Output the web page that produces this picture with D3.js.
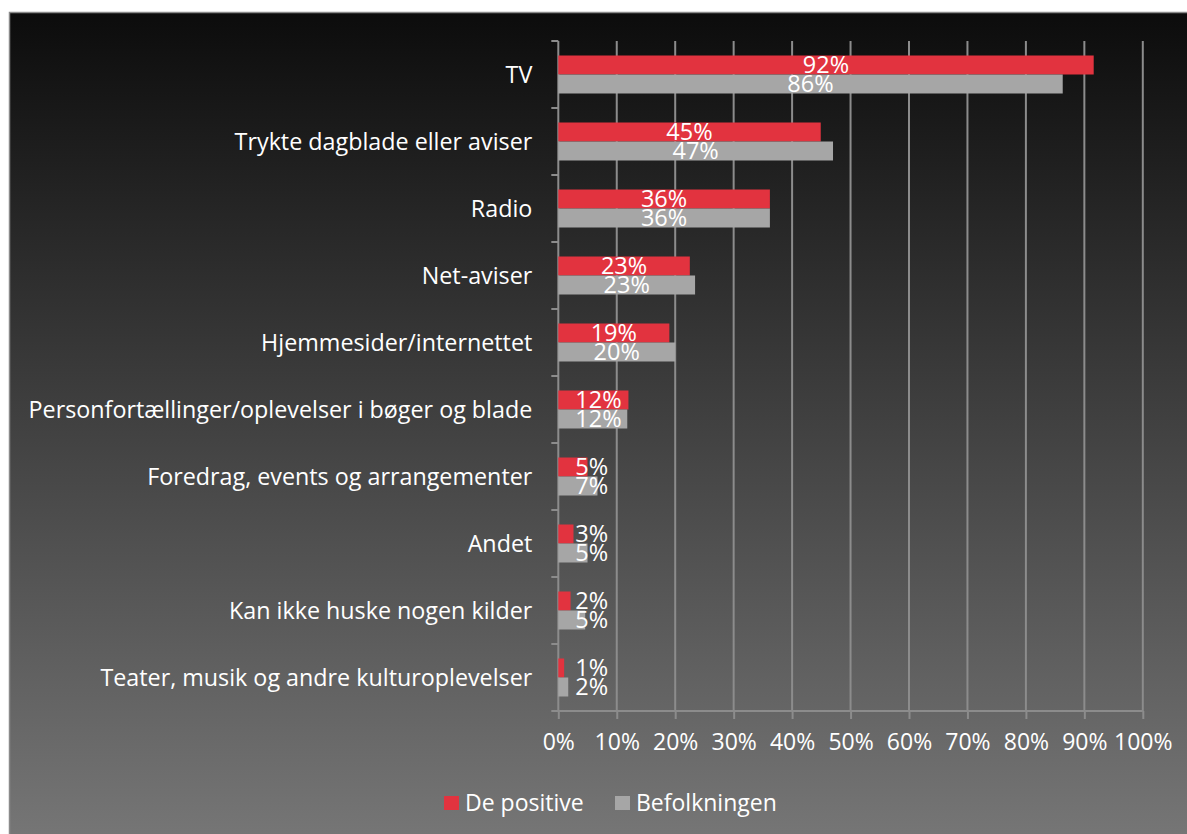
<!DOCTYPE html>
<html>
<head>
<meta charset="utf-8">
<script src="https://cdn.jsdelivr.net/npm/d3@7"></script>
<style>
  body { margin: 0; background: #fff; }
  svg text { font-family: "Open Sans", sans-serif; fill: #fff; }
</style>
</head>
<body>
<svg width="1187" height="834"></svg>
<script>
var categories = ["TV", "Trykte dagblade eller aviser", "Radio", "Net-aviser",
  "Hjemmesider/internettet", "Personfortællinger/oplevelser i bøger og blade",
  "Foredrag, events og arrangementer", "Andet", "Kan ikke huske nogen kilder",
  "Teater, musik og andre kulturoplevelser"];
var seriesNames = ["De positive", "Befolkningen"];
var positive = [91.6, 44.9, 36.2, 22.5, 19.0, 12.0, 5.0, 2.6, 2.1, 1.0];
var befolkning = [86.3, 47.0, 36.2, 23.4, 20.0, 11.8, 6.7, 5.0, 4.6, 1.7];
var positiveLabels = ["92%", "45%", "36%", "23%", "19%", "12%", "5%", "3%", "2%", "1%"];
var befolkLabels = ["86%", "47%", "36%", "23%", "20%", "12%", "7%", "5%", "5%", "2%"];
var xTicks = [0, 10, 20, 30, 40, 50, 60, 70, 80, 90, 100];
var colors = ["#e2333f", "#a6a6a6"];

var svg = d3.select("svg"),
    width = +svg.attr("width"),
    height = +svg.attr("height");

var defs = svg.append("defs");
var grad = defs.append("linearGradient")
    .attr("id", "bg").attr("x1", 0).attr("y1", 0).attr("x2", 0).attr("y2", 1);
grad.append("stop").attr("offset", "0%").attr("stop-color", "#0c0c0c");
grad.append("stop").attr("offset", "100%").attr("stop-color", "#777777");

svg.append("rect")
    .attr("x", 9.5).attr("y", 12.5)
    .attr("width", width).attr("height", height)
    .attr("fill", "url(#bg)")
    .attr("stroke", "#8a8a8a").attr("stroke-width", 1.5);

var x = d3.scaleLinear().domain([0, 100]).range([558.3, 1142.8]);
var y0 = d3.scaleBand().domain(categories).range([41, 711]);
var y1 = d3.scaleBand().domain(seriesNames).range([0, y0.bandwidth()]).paddingOuter(0.763);

var gridColor = "#8c8c8c";

// vertical gridlines
svg.append("g").selectAll("line")
    .data(xTicks.slice(1))
    .enter().append("line")
    .attr("x1", function(d) { return x(d); })
    .attr("x2", function(d) { return x(d); })
    .attr("y1", 41).attr("y2", 711)
    .attr("stroke", gridColor).attr("stroke-width", 2);

// x axis
var xAxis = d3.axisBottom(x)
    .tickValues(xTicks)
    .tickFormat(function(d) { return d + "%"; })
    .tickSize(8)
    .tickPadding(15);
var gx = svg.append("g").attr("transform", "translate(0,711)").call(xAxis);
gx.select(".domain").attr("stroke", gridColor).attr("stroke-width", 2)
    .attr("d", "M" + x(0) + ",0H" + x(100));
gx.selectAll(".tick line").attr("stroke", gridColor).attr("stroke-width", 2);
gx.selectAll(".tick text")
    .attr("fill", "#fff")
    .style("font-size", "23px")
    .style("font-family", "'Open Sans', sans-serif");

// y axis line and ticks
var yEdges = categories.map(function(c) { return y0(c); }).concat([711]);
svg.append("line")
    .attr("x1", x(0)).attr("x2", x(0)).attr("y1", 41).attr("y2", 711)
    .attr("stroke", gridColor).attr("stroke-width", 2);
svg.append("g").selectAll("line")
    .data(yEdges)
    .enter().append("line")
    .attr("x1", x(0) - 7).attr("x2", x(0))
    .attr("y1", function(d) { return d; })
    .attr("y2", function(d) { return d; })
    .attr("stroke", gridColor).attr("stroke-width", 2);

// category labels
svg.append("g").selectAll("text")
    .data(categories)
    .enter().append("text")
    .attr("x", x(0) - 26)
    .attr("y", function(d) { return y0(d) + y0.bandwidth() / 2; })
    .attr("dy", "0.35em")
    .attr("text-anchor", "end")
    .style("font-size", "23.3px")
    .text(function(d) { return d; });

// bars
var rows = categories.map(function(c, i) {
  return [
    { cat: c, s: seriesNames[0], v: positive[i], label: positiveLabels[i] },
    { cat: c, s: seriesNames[1], v: befolkning[i], label: befolkLabels[i] }
  ];
});

var groups = svg.append("g").selectAll("g")
    .data(rows)
    .enter().append("g")
    .attr("transform", function(d) { return "translate(0," + y0(d[0].cat) + ")"; });

groups.selectAll("rect")
    .data(function(d) { return d; })
    .enter().append("rect")
    .attr("x", x(0))
    .attr("y", function(d) { return y1(d.s); })
    .attr("width", function(d) { return x(d.v) - x(0); })
    .attr("height", y1.bandwidth())
    .attr("fill", function(d, i) { return colors[i]; });

groups.selectAll("text")
    .data(function(d) { return d; })
    .enter().append("text")
    .attr("y", function(d) { return y1(d.s) + y1.bandwidth() / 2; })
    .attr("dy", "0.36em")
    .attr("text-anchor", "middle")
    .style("font-size", "23.5px")
    .text(function(d) { return d.label; })
    .attr("x", function(d) {
      var w = this.getComputedTextLength();
      var mid = (x(0) + x(d.v)) / 2;
      return Math.max(mid, x(0) + 17 + w / 2);
    });

// legend
var legend = svg.append("g").attr("transform", "translate(444,796)");
var lx = [0, 171];
seriesNames.forEach(function(s, i) {
  var g = legend.append("g").attr("transform", "translate(" + lx[i] + ",0)");
  g.append("rect").attr("width", 15).attr("height", 14).attr("fill", colors[i]);
  g.append("text").attr("x", 21).attr("y", 7).attr("dy", "0.35em")
      .style("font-size", "23px").text(s);
});
</script>
</body>
</html>
